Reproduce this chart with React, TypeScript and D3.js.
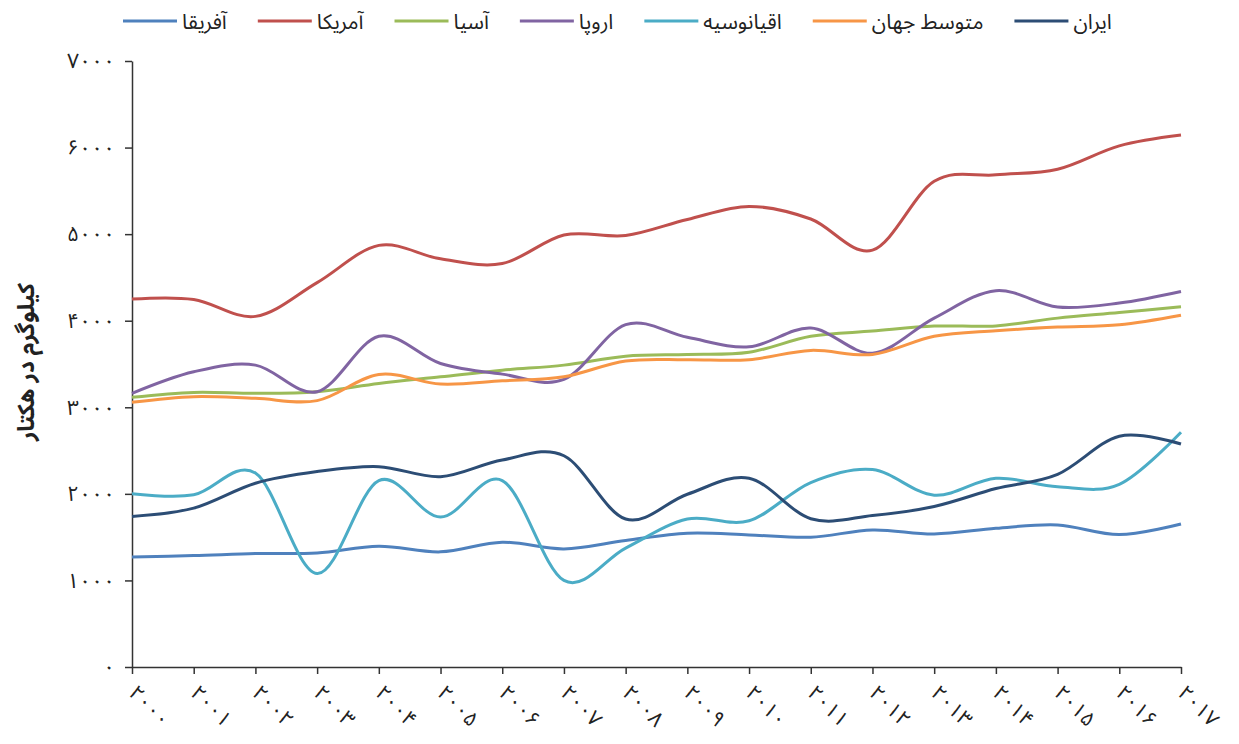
import React, { useEffect, useRef } from 'react';
import * as d3 from 'd3';

const years = [2000, 2001, 2002, 2003, 2004, 2005, 2006, 2007, 2008, 2009, 2010, 2011, 2012, 2013, 2014, 2015, 2016, 2017];
const yTicks = [0, 1000, 2000, 3000, 4000, 5000, 6000, 7000];

const africa = [1272, 1287, 1310, 1318, 1395, 1330, 1441, 1364, 1461, 1545, 1526, 1499, 1583, 1537, 1602, 1641, 1530, 1652];
const america = [4250, 4245, 4050, 4440, 4870, 4715, 4660, 4990, 4985, 5170, 5320, 5175, 4815, 5610, 5685, 5750, 6020, 6145];
const asia = [3115, 3172, 3161, 3180, 3276, 3352, 3429, 3487, 3590, 3610, 3635, 3820, 3880, 3938, 3940, 4030, 4094, 4162];
const europe = [3161, 3410, 3487, 3180, 3820, 3506, 3383, 3322, 3955, 3808, 3698, 3915, 3625, 4030, 4347, 4158, 4204, 4338];
const oceania = [2000, 1989, 2240, 1080, 2153, 1732, 2153, 1000, 1374, 1709, 1690, 2130, 2280, 1985, 2180, 2082, 2110, 2712];
const world = [3057, 3123, 3103, 3077, 3379, 3268, 3306, 3352, 3535, 3550, 3550, 3657, 3610, 3820, 3884, 3926, 3953, 4063];
const iran = [1739, 1835, 2123, 2257, 2314, 2199, 2391, 2440, 1709, 1996, 2180, 1713, 1750, 1854, 2061, 2225, 2666, 2576];

const seriesNames = ['آفریقا', 'آمریکا', 'آسیا', 'اروپا', 'اقیانوسیه', 'متوسط جهان', 'ایران'];
const seriesColors = ['#4F81BD', '#C0504D', '#9BBB59', '#8064A2', '#4BACC6', '#F79646', '#2C4D75'];
const seriesValues = [africa, america, asia, europe, oceania, world, iran];

const yTitle = 'کیلوگرم در هکتار';

const FONT = '"Noto Sans Arabic", "DejaVu Sans", sans-serif';
const fa = (v) => String(v).replace(/\d/g, d => '۰۱۲۳۴۵۶۷۸۹'[+d]);

export default function App() {
    const ref = useRef(null);

    useEffect(() => {
        if (!ref.current) return;
        const svg = d3.select(ref.current);
        svg.selectAll('*').remove();

        const x = d3.scaleLinear().domain([2000, 2017]).range([132, 1181]);
        const y = d3.scaleLinear().domain([0, 7000]).range([667, 61]);

        // y axis
        const ya = svg.append('g')
            .attr('transform', 'translate(132,0)')
            .call(d3.axisLeft(y).tickValues(yTicks).tickSize(7).tickSizeOuter(0).tickPadding(10).tickFormat(fa));
        ya.selectAll('path,line').attr('stroke', '#333').attr('stroke-width', 1.5);
        ya.selectAll('text').attr('font-family', FONT).attr('font-size', 21).attr('fill', '#222');

        // x axis
        const xa = svg.append('g')
            .attr('transform', 'translate(0,667)')
            .call(d3.axisBottom(x).tickValues(years).tickSize(7).tickSizeOuter(0).tickFormat(''));
        xa.selectAll('path,line').attr('stroke', '#333').attr('stroke-width', 1.5);
        xa.selectAll('.tick').append('text')
            .attr('transform', 'translate(-5,27) rotate(45)')
            .attr('text-anchor', 'start')
            .attr('font-family', FONT)
            .attr('font-size', 21)
            .attr('fill', '#222')
            .text(d => fa(d));

        // y title
        svg.append('text')
            .attr('transform', 'translate(34,362) rotate(-90)')
            .attr('text-anchor', 'middle')
            .attr('font-family', FONT)
            .attr('font-size', 23)
            .attr('font-weight', 'bold')
            .attr('fill', '#222')
            .text(yTitle);

        // lines
        const line = d3.line()
            .x((d, i) => x(years[i]))
            .y(d => y(d))
            .curve(d3.curveCardinal.tension(0));

        seriesValues.forEach((vals, k) => {
            svg.append('path')
                .datum(vals)
                .attr('fill', 'none')
                .attr('stroke', seriesColors[k])
                .attr('stroke-width', 3)
                .attr('stroke-linejoin', 'round')
                .attr('d', line);
        });

        // legend
        const legend = svg.append('g');
        let cx = 123;
        seriesNames.forEach((name, k) => {
            const g = legend.append('g').attr('transform', `translate(${cx},0)`);
            g.append('line').attr('x1', 0).attr('x2', 54).attr('y1', 21).attr('y2', 21)
                .attr('stroke', seriesColors[k]).attr('stroke-width', 3);
            const t = g.append('text').attr('x', 59).attr('y', 29)
                .attr('font-family', FONT).attr('font-size', 21).attr('fill', '#222')
                .text(name);
            const w = t.node().getComputedTextLength();
            cx += 59 + w + 31;
        });
    }, []);

    return (
        <div style={{ position: 'absolute', left: 0, top: 0 }}>
            <svg ref={ref} width={1239} height={744} style={{ display: 'block', background: '#fff' }} />
        </div>
    );
}
